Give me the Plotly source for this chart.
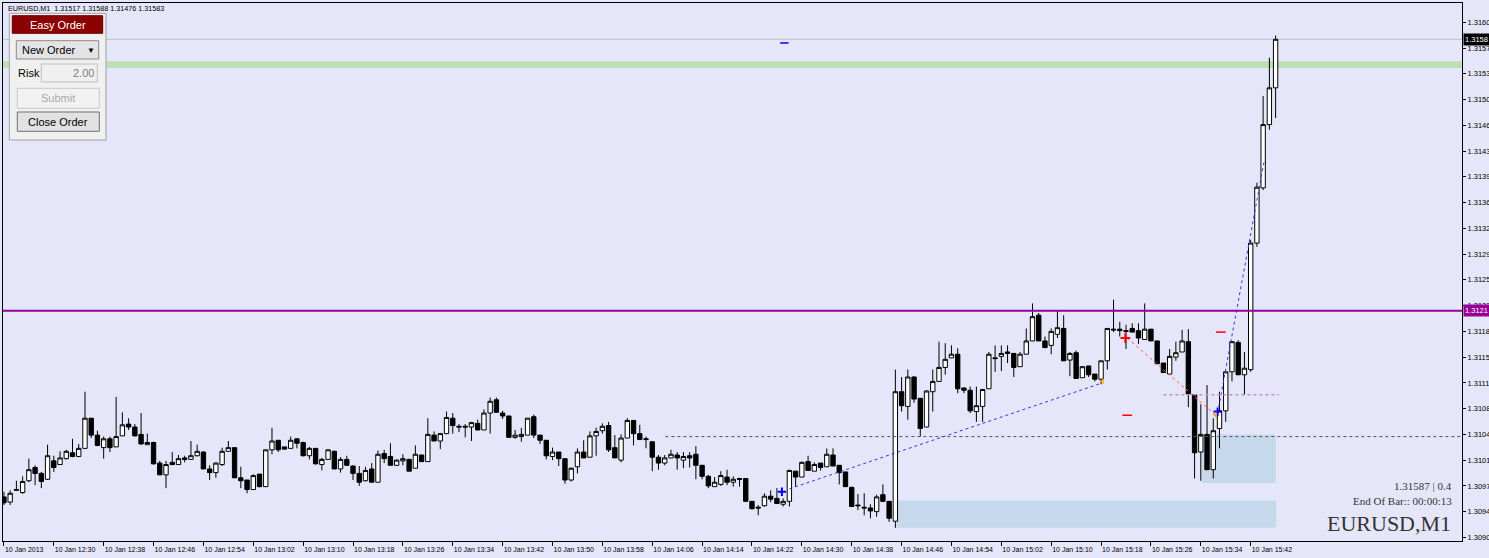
import plotly.graph_objects as go

# EURUSD M1, 10 Jan 2013 from 12:22, one bar per minute
open_ = [1.30961, 1.30954, 1.30970, 1.30967, 1.30983, 1.31001, 1.30993, 1.30985, 1.31010, 1.31005,
         1.31013, 1.31021, 1.31016, 1.31027, 1.31068, 1.31045, 1.31028, 1.31040, 1.31029, 1.31044,
         1.31060, 1.31056, 1.31046, 1.31032, 1.31035, 1.31007, 1.30991, 1.31008, 1.31005, 1.31014,
         1.31012, 1.31017, 1.31022, 1.30999, 1.30994, 1.31005, 1.31023, 1.31028, 1.30987, 1.30984,
         1.30971, 1.30992, 1.30975, 1.31025, 1.31038, 1.31029, 1.31027, 1.31040, 1.31035, 1.31017,
         1.31027, 1.31005, 1.31012, 1.31023, 1.30999, 1.31012, 1.31003, 1.30993, 1.30983, 1.30999,
         1.30981, 1.31020, 1.31016, 1.31004, 1.31010, 1.31012, 1.31000, 1.31018, 1.31009, 1.31045,
         1.31037, 1.31047, 1.31068, 1.31057, 1.31057, 1.31056, 1.31061, 1.31052, 1.31075, 1.31093,
         1.31075, 1.31071, 1.31042, 1.31043, 1.31045, 1.31070, 1.31045, 1.31038, 1.31016, 1.31022,
         1.31013, 1.30984, 1.31002, 1.31022, 1.31015, 1.31044, 1.31051, 1.31058, 1.31028, 1.31011,
         1.31041, 1.31065, 1.31047, 1.31040, 1.31036, 1.31015, 1.31007, 1.31014, 1.31018, 1.31011,
         1.31017, 1.31019, 1.31004, 1.30989, 1.30975, 1.30978, 1.30988, 1.30981, 1.30986, 1.30986,
         1.30955, 1.30947, 1.30949, 1.30962, 1.30959, 1.30951, 1.30955, 1.30996, 1.30988, 1.31009,
         1.30996, 1.31007, 1.31002, 1.31018, 1.31004, 1.30995, 1.30974, 1.30950, 1.30947, 1.30946,
         1.30941, 1.30964, 1.30955, 1.30928, 1.31104, 1.31084, 1.31124, 1.31095, 1.31056, 1.31104,
         1.31118, 1.31137, 1.31150, 1.31155, 1.31109, 1.31106, 1.31077, 1.31084, 1.31108, 1.31150,
         1.31152, 1.31158, 1.31156, 1.31138, 1.31155, 1.31173, 1.31208, 1.31173, 1.31167, 1.31182,
         1.31190, 1.31147, 1.31157, 1.31123, 1.31139, 1.31128, 1.31121, 1.31146, 1.31189, 1.31189,
         1.31187, 1.31190, 1.31187, 1.31175, 1.31189, 1.31173, 1.31143, 1.31128, 1.31151, 1.31158,
         1.31172, 1.31100, 1.31022, 1.31046, 1.30998, 1.31054, 1.31078, 1.31131, 1.31171, 1.31127,
         1.31134, 1.31306, 1.31381, 1.31467, 1.31517]
high = [1.30968, 1.30970, 1.30983, 1.30989, 1.31013, 1.31004, 1.30995, 1.31032, 1.31017, 1.31023,
        1.31025, 1.31040, 1.31033, 1.31104, 1.31068, 1.31051, 1.31043, 1.31043, 1.31097, 1.31076,
        1.31068, 1.31060, 1.31075, 1.31047, 1.31036, 1.31010, 1.31010, 1.31022, 1.31018, 1.31017,
        1.31037, 1.31032, 1.31023, 1.31004, 1.31008, 1.31028, 1.31037, 1.31028, 1.31002, 1.30984,
        1.30992, 1.30992, 1.31025, 1.31055, 1.31038, 1.31029, 1.31043, 1.31040, 1.31036, 1.31029,
        1.31027, 1.31014, 1.31026, 1.31024, 1.31015, 1.31017, 1.31004, 1.31003, 1.31002, 1.31007,
        1.31024, 1.31025, 1.31034, 1.31012, 1.31019, 1.31013, 1.31031, 1.31018, 1.31068, 1.31050,
        1.31048, 1.31077, 1.31075, 1.31060, 1.31060, 1.31063, 1.31066, 1.31080, 1.31096, 1.31096,
        1.31078, 1.31071, 1.31052, 1.31055, 1.31068, 1.31073, 1.31045, 1.31038, 1.31028, 1.31022,
        1.31013, 1.31001, 1.31027, 1.31038, 1.31050, 1.31055, 1.31061, 1.31063, 1.31045, 1.31046,
        1.31068, 1.31065, 1.31059, 1.31043, 1.31036, 1.31018, 1.31018, 1.31025, 1.31022, 1.31022,
        1.31022, 1.31030, 1.31004, 1.30991, 1.30988, 1.30996, 1.30998, 1.30989, 1.30987, 1.30986,
        1.30955, 1.30950, 1.30966, 1.30970, 1.30973, 1.30959, 1.30998, 1.30996, 1.31009, 1.31017,
        1.31008, 1.31007, 1.31027, 1.31027, 1.31004, 1.30995, 1.30975, 1.30965, 1.30966, 1.30951,
        1.30964, 1.30978, 1.30955, 1.31134, 1.31124, 1.31134, 1.31125, 1.31095, 1.31106, 1.31134,
        1.31172, 1.31170, 1.31167, 1.31163, 1.31110, 1.31111, 1.31111, 1.31108, 1.31158, 1.31167,
        1.31167, 1.31167, 1.31156, 1.31158, 1.31190, 1.31224, 1.31211, 1.31179, 1.31190, 1.31214,
        1.31208, 1.31158, 1.31160, 1.31139, 1.31139, 1.31128, 1.31146, 1.31190, 1.31229, 1.31199,
        1.31195, 1.31197, 1.31197, 1.31224, 1.31189, 1.31173, 1.31143, 1.31162, 1.31172, 1.31188,
        1.31189, 1.31100, 1.31087, 1.31113, 1.31068, 1.31104, 1.31131, 1.31172, 1.31174, 1.31158,
        1.31310, 1.31388, 1.31506, 1.31558, 1.31588]
low = [1.30950, 1.30950, 1.30969, 1.30965, 1.30981, 1.30977, 1.30973, 1.30984, 1.30995, 1.31005,
       1.31012, 1.31015, 1.31015, 1.31026, 1.31041, 1.31030, 1.31013, 1.31022, 1.31029, 1.31044,
       1.31052, 1.31043, 1.31032, 1.31032, 1.31005, 1.30991, 1.30973, 1.31004, 1.31005, 1.31008,
       1.31012, 1.31016, 1.30999, 1.30984, 1.30987, 1.31003, 1.31023, 1.30987, 1.30973, 1.30966,
       1.30971, 1.30974, 1.30975, 1.31019, 1.31022, 1.31025, 1.31027, 1.31027, 1.31016, 1.31012,
       1.31005, 1.30997, 1.31012, 1.30999, 1.30994, 1.31003, 1.30984, 1.30976, 1.30982, 1.30981,
       1.30981, 1.31007, 1.31004, 1.31003, 1.31004, 1.30996, 1.31000, 1.31009, 1.31009, 1.31037,
       1.31026, 1.31047, 1.31047, 1.31049, 1.31042, 1.31037, 1.31052, 1.31052, 1.31047, 1.31076,
       1.31067, 1.31042, 1.31040, 1.31036, 1.31045, 1.31041, 1.31033, 1.31012, 1.31011, 1.31003,
       1.30979, 1.30982, 1.30993, 1.31014, 1.31015, 1.31017, 1.31047, 1.31022, 1.31014, 1.31008,
       1.31041, 1.31031, 1.31039, 1.31027, 1.30996, 1.30998, 1.31004, 1.31014, 1.30998, 1.31000,
       1.31001, 1.30985, 1.30985, 1.30973, 1.30975, 1.30976, 1.30977, 1.30975, 1.30975, 1.30954,
       1.30944, 1.30936, 1.30948, 1.30954, 1.30952, 1.30948, 1.30948, 1.30975, 1.30988, 1.30997,
       1.30996, 1.30997, 1.31002, 1.31003, 1.30978, 1.30975, 1.30947, 1.30943, 1.30936, 1.30932,
       1.30934, 1.30954, 1.30927, 1.30919, 1.31077, 1.31066, 1.31089, 1.31043, 1.31056, 1.31077,
       1.31118, 1.31127, 1.31150, 1.31102, 1.31102, 1.31075, 1.31063, 1.31063, 1.31108, 1.31131,
       1.31132, 1.31143, 1.31124, 1.31138, 1.31155, 1.31173, 1.31173, 1.31163, 1.31155, 1.31177,
       1.31146, 1.31125, 1.31122, 1.31123, 1.31124, 1.31118, 1.31114, 1.31134, 1.31185, 1.31179,
       1.31162, 1.31185, 1.31169, 1.31175, 1.31173, 1.31142, 1.31130, 1.31128, 1.31146, 1.31158,
       1.31083, 1.30986, 1.30983, 1.30998, 1.30986, 1.31027, 1.31063, 1.31118, 1.31127, 1.31100,
       1.31131, 1.31301, 1.31378, 1.31460, 1.31476]
close = [1.30953, 1.30966, 1.30971, 1.30982, 1.30998, 1.30993, 1.30982, 1.31017, 1.31001, 1.31014,
         1.31023, 1.31016, 1.31027, 1.31068, 1.31045, 1.31031, 1.31040, 1.31028, 1.31043, 1.31059,
         1.31056, 1.31044, 1.31033, 1.31035, 1.31006, 1.30991, 1.31005, 1.31005, 1.31013, 1.31012,
         1.31017, 1.31023, 1.30999, 1.30994, 1.31007, 1.31023, 1.31028, 1.30987, 1.30983, 1.30971,
         1.30990, 1.30975, 1.31025, 1.31037, 1.31025, 1.31026, 1.31038, 1.31034, 1.31017, 1.31027,
         1.31006, 1.31012, 1.31025, 1.30999, 1.31012, 1.31004, 1.30993, 1.30981, 1.30997, 1.30981,
         1.31019, 1.31013, 1.31004, 1.31011, 1.31013, 1.30996, 1.31019, 1.31009, 1.31046, 1.31037,
         1.31047, 1.31069, 1.31058, 1.31056, 1.31056, 1.31062, 1.31052, 1.31075, 1.31091, 1.31076,
         1.31071, 1.31042, 1.31045, 1.31046, 1.31068, 1.31045, 1.31038, 1.31017, 1.31022, 1.31013,
         1.30984, 1.31000, 1.31022, 1.31014, 1.31044, 1.31050, 1.31057, 1.31025, 1.31014, 1.31041,
         1.31065, 1.31047, 1.31039, 1.31039, 1.31015, 1.31007, 1.31014, 1.31019, 1.31014, 1.31016,
         1.31014, 1.31004, 1.30989, 1.30976, 1.30981, 1.30990, 1.30981, 1.30985, 1.30985, 1.30955,
         1.30945, 1.30946, 1.30962, 1.30958, 1.30952, 1.30955, 1.30997, 1.30988, 1.31008, 1.30997,
         1.31005, 1.31001, 1.31019, 1.31003, 1.30994, 1.30975, 1.30948, 1.30949, 1.30946, 1.30942,
         1.30961, 1.30955, 1.30932, 1.31104, 1.31085, 1.31124, 1.31094, 1.31054, 1.31105, 1.31118,
         1.31137, 1.31148, 1.31155, 1.31108, 1.31106, 1.31078, 1.31085, 1.31107, 1.31155, 1.31149,
         1.31156, 1.31156, 1.31137, 1.31155, 1.31173, 1.31206, 1.31173, 1.31164, 1.31186, 1.31191,
         1.31146, 1.31156, 1.31122, 1.31138, 1.31127, 1.31121, 1.31146, 1.31190, 1.31188, 1.31187,
         1.31186, 1.31185, 1.31177, 1.31189, 1.31173, 1.31142, 1.31130, 1.31152, 1.31157, 1.31173,
         1.31101, 1.31021, 1.31046, 1.30998, 1.31051, 1.31078, 1.31131, 1.31172, 1.31127, 1.31136,
         1.31306, 1.31382, 1.31467, 1.31517, 1.31583]

x_tick_labels = ["10 Jan 2013", "10 Jan 12:30", "10 Jan 12:38", "10 Jan 12:46", "10 Jan 12:54",
                 "10 Jan 13:02", "10 Jan 13:10", "10 Jan 13:18", "10 Jan 13:26", "10 Jan 13:34",
                 "10 Jan 13:42", "10 Jan 13:50", "10 Jan 13:58", "10 Jan 14:06", "10 Jan 14:14",
                 "10 Jan 14:22", "10 Jan 14:30", "10 Jan 14:38", "10 Jan 14:46", "10 Jan 14:54",
                 "10 Jan 15:02", "10 Jan 15:10", "10 Jan 15:18", "10 Jan 15:26", "10 Jan 15:34",
                 "10 Jan 15:42"]
y_tick_vals = [1.31606, 1.31571, 1.31536, 1.31501, 1.31466, 1.31431, 1.31396, 1.31361, 1.31326,
               1.31291, 1.31256, 1.31221, 1.31186, 1.31151, 1.31116, 1.31081, 1.31046, 1.31011,
               1.30976, 1.30941, 1.30906]
y_tick_text = ["1.3160", "1.3157", "1.3153", "1.3150", "1.3146", "1.3143", "1.3139", "1.3136",
               "1.3132", "1.3129", "1.3125", "1.3122", "1.3118", "1.3115", "1.3111", "1.3108",
               "1.3104", "1.3101", "1.3097", "1.3094", "1.3090"]

bid = 1.31583
level_price = 1.31214
green_band = [1.31544, 1.31553]
grey_dotted = [106.1, 1.31043]
purple_dotted = [186.0, 204.5, 1.31100]
zone_upper = [192.2, 204.0, 1.30980, 1.31046]
zone_lower = [143.2, 204.1, 1.30919, 1.30956]
trend_blue_1 = [[126.0, 176.2], [1.30972, 1.31116]]
trend_blue_2 = [[194.7, 202.2], [1.31075, 1.31419]]
trend_red = [[180.2, 194.4], [1.31177, 1.31072]]

BG = "#E6E6FA"
W, H = 1489, 558
ML, MR, MT, MB = 3, 27, 3, 17


def fx(px):
    return (px - ML) / (W - ML - MR)


def fy(py):
    return (H - MB - py) / (H - MT - MB)


idx = list(range(len(open_)))

fig = go.Figure()
fig.add_trace(go.Candlestick(
    x=idx, open=open_, high=high, low=low, close=close,
    increasing=dict(line=dict(color="black", width=1), fillcolor="white"),
    decreasing=dict(line=dict(color="black", width=1), fillcolor="black"),
    whiskerwidth=0, hoverinfo="skip", showlegend=False,
))

# analysis lines
for xs, ys, col in [(trend_blue_1[0], trend_blue_1[1], "rgb(50,50,240)"),
                    (trend_blue_2[0], trend_blue_2[1], "rgb(50,50,240)"),
                    (trend_red[0], trend_red[1], "rgb(240,90,90)")]:
    fig.add_trace(go.Scatter(x=xs, y=ys, mode="lines", line=dict(color=col, width=1, dash="dot"),
                             hoverinfo="skip", showlegend=False))

fig.add_trace(go.Scatter(x=[179.9], y=[1.31177], mode="markers",
                         marker=dict(symbol="cross-thin", size=7, line=dict(color="red", width=2)),
                         hoverinfo="skip", showlegend=False))
fig.add_trace(go.Scatter(x=[124.8, 194.7], y=[1.30968, 1.31077], mode="markers",
                         marker=dict(symbol="cross-thin", size=6, line=dict(color="blue", width=2)),
                         hoverinfo="skip", showlegend=False))
fig.add_trace(go.Scatter(x=[176.2, 194.4], y=[1.31118, 1.31072], mode="markers",
                         marker=dict(symbol="triangle-left", size=5, color="orange"),
                         hoverinfo="skip", showlegend=False))
fig.add_trace(go.Scatter(x=[195.2, 180.2], y=[1.31185, 1.31072], mode="markers",
                         marker=dict(symbol="line-ew", size=7, line=dict(color="red", width=1.5)),
                         hoverinfo="skip", showlegend=False))
fig.add_trace(go.Scatter(x=[125.2], y=[1.31578], mode="markers",
                         marker=dict(symbol="line-ew", size=6, line=dict(color="blue", width=1.5)),
                         hoverinfo="skip", showlegend=False))

shapes = [
    dict(type="rect", xref="paper", x0=0, x1=1, yref="y", y0=green_band[0], y1=green_band[1],
         fillcolor="rgb(190,222,180)", line=dict(width=0), layer="below"),
    dict(type="line", xref="paper", x0=0, x1=1, yref="y", y0=bid, y1=bid,
         line=dict(color="#C0C0C0", width=1), layer="below"),
    dict(type="rect", xref="x", x0=zone_upper[0], x1=zone_upper[1], yref="y",
         y0=zone_upper[2], y1=zone_upper[3], fillcolor="rgb(198,216,236)", line=dict(width=0), layer="below"),
    dict(type="rect", xref="x", x0=zone_lower[0], x1=zone_lower[1], yref="y",
         y0=zone_lower[2], y1=zone_lower[3], fillcolor="rgb(198,216,236)", line=dict(width=0), layer="below"),
    dict(type="line", xref="x", x0=grey_dotted[0], x1=233.9, yref="y", y0=grey_dotted[1], y1=grey_dotted[1],
         line=dict(color="#555555", width=1, dash="dot")),
    dict(type="line", xref="x", x0=purple_dotted[0], x1=purple_dotted[1], yref="y",
         y0=purple_dotted[2], y1=purple_dotted[2], line=dict(color="rgb(200,140,210)", width=1.5, dash="dot")),
    dict(type="line", xref="paper", x0=0, x1=1, yref="y", y0=level_price, y1=level_price,
         line=dict(color="rgb(150,0,150)", width=2)),
]

# Easy Order panel (pixel layout)
def box(x0, y0, x1, y1, fill, edge):
    return dict(type="rect", xref="paper", yref="paper", x0=fx(x0), x1=fx(x1), y0=fy(y1), y1=fy(y0),
                fillcolor=fill, line=dict(color=edge, width=1))


shapes += [
    box(9.3, 13.3, 106, 140, "#F0F0F0", "#A0A0A0"),
    box(12.3, 15.7, 102.7, 33.3, "#8B0000", "#6A0000"),
    box(16.3, 40.7, 98.7, 59, "#E4E4E4", "#8C8C8C"),
    box(41.3, 64, 97.3, 82, "#F0F0F0", "#BDBDBD"),
    box(17.3, 88.3, 99.3, 108.3, "#F2F2F2", "#C8C8C8"),
    box(17.3, 112, 99.3, 131.3, "#E2E2E2", "#707070"),
]

SANS = "Liberation Sans, Arial, sans-serif"
SERIF = "Liberation Serif, Times New Roman, serif"


def label(text, px, py, size, color="black", anchor="left", family=SANS, **kw):
    return dict(text=text, xref="paper", yref="paper", x=fx(px), y=fy(py), xanchor=anchor,
                yanchor="middle", showarrow=False, font=dict(family=family, size=size, color=color), **kw)


annotations = [
    label("EURUSD,M1  1.31517 1.31588 1.31476 1.31583", 6, 8.5, 7.2),
    label("Easy Order", 57.5, 24.5, 11, color="white", anchor="center"),
    label("New Order", 19.5, 50, 11),
    label("▼", 91, 50, 8, anchor="center"),
    label("Risk", 15.5, 72.5, 11),
    label("2.00", 95.5, 73, 11, color="#7F7F7F", anchor="right"),
    label("Submit", 58.3, 98.3, 11, color="#A8A8A8", anchor="center"),
    label("Close Order", 58.3, 121.7, 11, anchor="center"),
    label("1.31587 | 0.4", 1454, 486, 11, color="#333333", anchor="right", family=SERIF),
    label("End Of Bar:: 00:00:13", 1454, 500.7, 11, color="#333333", anchor="right", family=SERIF),
    label("EURUSD,M1", 1453, 523, 22, color="#333333", anchor="right", family=SERIF),
    dict(text="1.3158", xref="paper", yref="y", x=fx(1463), y=bid, xanchor="left", yanchor="middle",
         showarrow=False, bgcolor="black", borderpad=1, font=dict(family=SANS, size=7.5, color="white")),
    dict(text="1.3121", xref="paper", yref="y", x=fx(1463), y=level_price, xanchor="left", yanchor="middle",
         showarrow=False, bgcolor="rgb(150,0,150)", borderpad=1, font=dict(family=SANS, size=7.5, color="white")),
]

fig.update_layout(
    width=W, height=H,
    margin=dict(l=ML, r=MR, t=MT, b=MB, pad=0, autoexpand=False),
    paper_bgcolor=BG, plot_bgcolor=BG,
    boxgap=0.3, boxgroupgap=0,
    shapes=shapes, annotations=annotations,
    showlegend=False,
)
fig.update_xaxes(
    range=[-0.15, 233.9], rangeslider_visible=False, automargin=False,
    tickmode="array", tickvals=list(range(0, 201, 8)), ticktext=x_tick_labels, tickangle=0,
    ticks="outside", ticklen=4, tickcolor="black", ticklabelposition="outside right",
    ticklabelstandoff=2,
    showgrid=False, zeroline=False, showline=True, linecolor="black", mirror=True,
    tickfont=dict(family=SANS, size=7, color="black"),
)
fig.update_yaxes(
    side="right", range=[1.309011, 1.316323], automargin=False,
    tickmode="array", tickvals=y_tick_vals, ticktext=y_tick_text,
    ticks="outside", ticklen=3, tickcolor="black",
    showgrid=False, zeroline=False, showline=True, linecolor="black", mirror=True,
    tickfont=dict(family=SANS, size=7.5, color="black"),
)

# the page body has a default 8px margin; drop it so the chart sits at the window corner
fig.write_html("out.html", config={"displayModeBar": False},
               post_script="document.body.style.margin='0';")
